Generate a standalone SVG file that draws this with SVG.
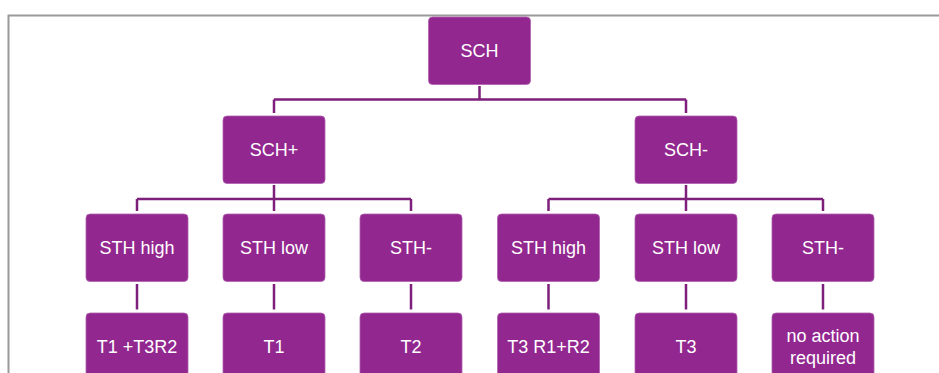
<svg xmlns="http://www.w3.org/2000/svg" width="939" height="373" viewBox="0 0 939 373">
<style>
.box{fill:#92278f;stroke:#b060ad;stroke-width:0.8}
.lbl{font-family:"Liberation Sans",Arial,sans-serif;font-size:18px;fill:#ffffff;text-anchor:middle}
.con{fill:none;stroke:#7e1f7c;stroke-width:2.5}
</style>
<rect width="939" height="373" fill="#ffffff"/>
<path d="M8.5 373 V15.5 H939" fill="none" stroke="#9a9a9a" stroke-width="2"/>
<g id="connectors">
<path class="con" d="M479.5 86 V99.5 M274 99.5 H686 M274 99.5 V113 M686 99.5 V113"/>
<path class="con" d="M274 185 V211 M137 199 H411 M137 199 V211 M411 199 V211"/>
<path class="con" d="M686 185 V211 M548.5 199 H823 M548.5 199 V211 M823 199 V211"/>
<path class="con" d="M137 284 V309.5 M274 284 V309.5 M411 284 V309.5 M548.5 284 V309.5 M686 284 V309.5 M823 284 V309.5"/>
</g>
<g id="n-sch"><rect class="box" x="428.5" y="17" width="102" height="67.5" rx="4"/><text class="lbl" x="479.5" y="57">SCH</text></g>
<g id="n-schp"><rect class="box" x="223" y="116" width="102" height="67.5" rx="4"/><text class="lbl" x="274" y="156">SCH+</text></g>
<g id="n-schm"><rect class="box" x="635" y="116" width="102" height="67.5" rx="4"/><text class="lbl" x="686" y="156">SCH-</text></g>
<g id="n-a1"><rect class="box" x="86" y="214" width="102" height="67.5" rx="4"/><text class="lbl" x="137" y="254">STH high</text></g>
<g id="n-a2"><rect class="box" x="223" y="214" width="102" height="67.5" rx="4"/><text class="lbl" x="274" y="254">STH low</text></g>
<g id="n-a3"><rect class="box" x="360" y="214" width="102" height="67.5" rx="4"/><text class="lbl" x="411" y="254">STH-</text></g>
<g id="n-b1"><rect class="box" x="497.5" y="214" width="102" height="67.5" rx="4"/><text class="lbl" x="548.5" y="254">STH high</text></g>
<g id="n-b2"><rect class="box" x="635" y="214" width="102" height="67.5" rx="4"/><text class="lbl" x="686" y="254">STH low</text></g>
<g id="n-b3"><rect class="box" x="772" y="214" width="102" height="67.5" rx="4"/><text class="lbl" x="823" y="254">STH-</text></g>
<g id="n-c1"><rect class="box" x="86" y="313" width="102" height="67.5" rx="4"/><text class="lbl" x="137" y="353">T1 +T3R2</text></g>
<g id="n-c2"><rect class="box" x="223" y="313" width="102" height="67.5" rx="4"/><text class="lbl" x="274" y="353">T1</text></g>
<g id="n-c3"><rect class="box" x="360" y="313" width="102" height="67.5" rx="4"/><text class="lbl" x="411" y="353">T2</text></g>
<g id="n-d1"><rect class="box" x="497.5" y="313" width="102" height="67.5" rx="4"/><text class="lbl" x="548.5" y="353">T3 R1+R2</text></g>
<g id="n-d2"><rect class="box" x="635" y="313" width="102" height="67.5" rx="4"/><text class="lbl" x="686" y="353">T3</text></g>
<g id="n-d3"><rect class="box" x="772" y="313" width="102" height="67.5" rx="4"/><text class="lbl" x="823" y="341.5">no action</text><text class="lbl" x="823" y="364">required</text></g>
</svg>
